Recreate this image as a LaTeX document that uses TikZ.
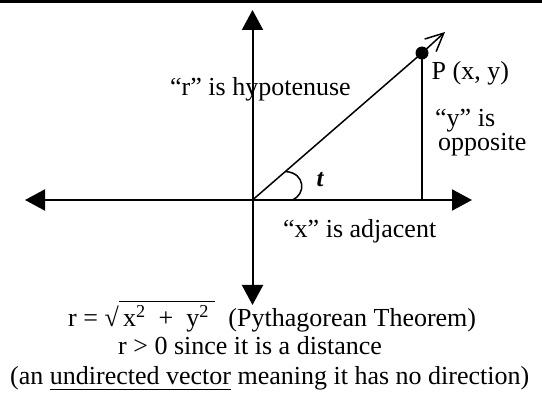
\documentclass[tikz,border=0pt]{standalone}
\usepackage{fontspec}
\setmainfont{Liberation Serif}
\usetikzlibrary{arrows.meta}
\newcommand\myovl[1]{\setbox0\hbox{#1}\rlap{\rule[24.2pt]{\wd0}{1.3pt}}\box0\relax}
\newcommand\myul[1]{\setbox0\hbox{#1}\rlap{\rule[-5pt]{\wd0}{1.3pt}}\box0\relax}
\begin{document}
\begin{tikzpicture}[x=1pt,y=-1pt,
  lbl/.style={inner sep=0pt, font=\fontsize{26}{29}\selectfont, anchor=base west},
  tri/.tip={Triangle[length=20pt,width=21pt]},
  ax/.style={line width=2pt, tri-tri},
  thin/.style={line width=1.5pt}]
\useasboundingbox (0,0) rectangle (542,393);
\fill (0,0) rectangle (542,3);
% texts
\node[lbl] (hyp) at (170,96) {“r” is hypotenuse};
\node[lbl] (pxy) at (431.5,80) {P (x, y)};
\node[lbl] (yis) at (435,127) {“y” is};
\node[lbl] (opp) at (438,151) {opposite};
\node[lbl] (xadj) at (283,238) {“x” is adjacent};
\node[inner sep=0pt, font=\fontsize{25}{25}\selectfont\bfseries\itshape] (t) at (320,180) {t};
\node[lbl] (l1) at (68,326.7) {r = √\myovl{\,x\textsuperscript{2}\ \ +\ \ y\textsuperscript{2}\ }\ \ (Pythagorean Theorem)};
\node[lbl] (l2) at (118,355) {r > 0 since it is a distance};
\node[lbl] (l3) at (10,385) {(an \myul{undirected vector} meaning it has no direction)};
% geometry
\coordinate (O) at (252.5,200);
\coordinate (L) at (25,200);
\coordinate (R) at (472,200);
\coordinate (T) at (252.5,10);
\coordinate (B) at (252.5,305);
\coordinate (P) at (422,53);
\coordinate (Ptip) at (445,32);
\coordinate (F) at (422,200);
\coordinate (A1) at (285.5,171.5);
\coordinate (A2) at (292,200);
\draw[ax] (L) -- (R);
\draw[ax] (B) -- (T);
\draw[thin] (O) -- (P);
\draw[thin] (P) -- (F);
\draw[thin, -{Straight Barb[length=18pt,width=17pt]}] (P) -- (Ptip);
\fill (P) circle (6.5pt);
\draw[thin] (A1) .. controls (306,173) and (306,195) .. (A2);
\end{tikzpicture}
\end{document}
